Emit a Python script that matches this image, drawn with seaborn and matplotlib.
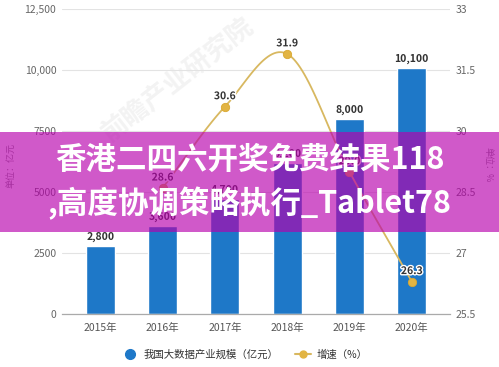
import numpy as np
import pandas as pd
import matplotlib
matplotlib.use("Agg")
import matplotlib.pyplot as plt
import seaborn as sns
from matplotlib.patches import Rectangle
from matplotlib.lines import Line2D
import matplotlib.patheffects as pe

years = ["2015年", "2016年", "2017年", "2018年", "2019年", "2020年"]
sizes = [2800, 3600, 4700, 6200, 8000, 10100]
size_labels = ["2,800", "3,600", "4,700", "6,200", "8,000", "10,100"]
growth_years = ["2016年", "2017年", "2018年", "2019年", "2020年"]
growth = [28.6, 30.6, 31.9, 29.0, 26.3]
left_ticks = [0, 2500, 5000, 7500, 10000, 12500]
left_tick_labels = ["0", "2500", "5000", "7500", "10,000", "12,500"]
right_ticks = [25.5, 27, 28.5, 30, 31.5, 33]
right_tick_labels = ["25.5", "27", "28.5", "30", "31.5", "33"]
legend_bar = "我国大数据产业规模（亿元）"
legend_line = "增速（%）"
left_unit = "单位：亿元"
right_unit = "单位：%"
banner_lines = ["香港二四六开奖免费结果118", ",高度协调策略执行_Tablet78"]
watermark = "前瞻产业研究院"

sns.set_theme(style="white")
plt.rcParams['font.family'] = ['Noto Sans CJK SC', 'DejaVu Sans']

BLUE = "#1e78c8"
GOLD = "#d8b860"
MARK = "#e2b443"

fig = plt.figure(figsize=(4.99, 3.67), dpi=100)
ax = fig.add_axes([0.124, 0.144, 0.778, 0.831])

df = pd.DataFrame({"year": years, "size": sizes})
sns.barplot(data=df, x="year", y="size", color=BLUE, saturation=1, width=0.47, ax=ax)
ax.set_xlim(-0.615, 5.615)
ax.set_ylim(0, 12500)
ax.set_yticks(left_ticks)
ax.set_yticklabels(left_tick_labels, fontsize=7.5, color="#666666")
ax.tick_params(axis="y", length=0, pad=4)
ax.tick_params(axis="x", length=4, color="#aaaaaa", labelsize=7.5, labelcolor="#555555", pad=2, direction="out")
ax.set_xlabel("")
ax.set_ylabel("")
ax.grid(axis="y", color="#e3e3e3", linewidth=0.8)
ax.set_axisbelow(True)
for s in ["top", "left", "right"]:
    ax.spines[s].set_visible(False)
ax.spines["bottom"].set_color("#aaaaaa")
ax.spines["bottom"].set_linewidth(0.9)

for i, (v, lab) in enumerate(zip(sizes, size_labels)):
    ax.annotate(lab, (i, v), xytext=(0, 3), textcoords="offset points",
                ha="center", va="bottom", fontsize=7.5, fontweight="bold", color="#333333")

# watermark
ax.text(1.25, 9600, watermark, rotation=38, fontsize=19, color="#bbbbbb", alpha=0.18,
        ha="center", va="center", fontweight="bold", zorder=0.5)

ax2 = ax.twinx()
ax2.set_ylim(25.5, 33)
ax2.set_yticks(right_ticks)
ax2.set_yticklabels(right_tick_labels, fontsize=7.5, color="#666666")
ax2.tick_params(axis="y", length=0, pad=4)
for s in ["top", "left", "right", "bottom"]:
    ax2.spines[s].set_visible(False)
ax2.grid(False)

# smooth curve (Catmull-Rom through the data points)
gx = np.array([years.index(y) for y in growth_years], dtype=float)
gy = np.array(growth, dtype=float)
px = np.concatenate([[2 * gx[0] - gx[1]], gx, [2 * gx[-1] - gx[-2]]])
py = np.concatenate([[2 * gy[0] - gy[1]], gy, [2 * gy[-1] - gy[-2]]])
cx, cy = [], []
t = np.linspace(0, 1, 30)
for k in range(1, len(px) - 2):
    p0, p1, p2, p3 = [np.array([px[j], py[j]]) for j in (k - 1, k, k + 1, k + 2)]
    for tt in t:
        pt = 0.5 * ((2 * p1) + (-p0 + p2) * tt + (2 * p0 - 5 * p1 + 4 * p2 - p3) * tt ** 2
                    + (-p0 + 3 * p1 - 3 * p2 + p3) * tt ** 3)
        cx.append(pt[0]); cy.append(pt[1])
ax2.plot(cx, cy, color=GOLD, linewidth=1.3, zorder=3)
gdf = pd.DataFrame({"x": gx, "g": gy})
sns.scatterplot(data=gdf, x="x", y="g", ax=ax2, color=MARK, s=36, edgecolor="#d9a830",
                linewidth=0.6, zorder=4, legend=False)
ax2.set_xlabel("")
ax2.set_ylabel("")
for xv, yv in zip(gx, gy):
    ax2.annotate(f"{yv:.1f}", (xv, yv), xytext=(0, 4), textcoords="offset points",
                 ha="center", va="bottom", fontsize=7.5, fontweight="bold", color="#333333",
                 path_effects=[pe.withStroke(linewidth=2, foreground="white")], zorder=5)

# unit labels
fig.text(0.022, 0.55, left_unit, rotation=90, fontsize=6.5, color="#888888", ha="center", va="center")
fig.text(0.978, 0.55, right_unit, rotation=-90, fontsize=6.5, color="#888888", ha="center", va="center")

# legend
h1 = Line2D([], [], marker="o", linestyle="none", markersize=7, color=BLUE)
h2 = Line2D([], [], marker="o", linestyle="-", markersize=5, color=GOLD, markerfacecolor=MARK,
            markeredgecolor=MARK, linewidth=1.5)
fig.legend([h1, h2], [legend_bar, legend_line], loc="center", bbox_to_anchor=(0.49, 0.033),
           ncol=2, frameon=False, fontsize=7.5, handlelength=1.6, columnspacing=1.6,
           handletextpad=0.5, labelcolor="#333333")

# overlay banner
band = Rectangle((0, 0.368), 1, 0.272, transform=fig.transFigure, facecolor=(0.72, 0.0, 0.68),
                 alpha=0.65, edgecolor="none", zorder=10)
fig.patches.append(band)
fig.text(0.5, 0.565, banner_lines[0], ha="center", va="center", fontsize=22, fontweight="bold",
         color="white", zorder=11)
fig.text(0.5, 0.447, banner_lines[1], ha="center", va="center", fontsize=22, fontweight="bold",
         color="white", zorder=11)

fig.savefig("out.png", dpi=100)
